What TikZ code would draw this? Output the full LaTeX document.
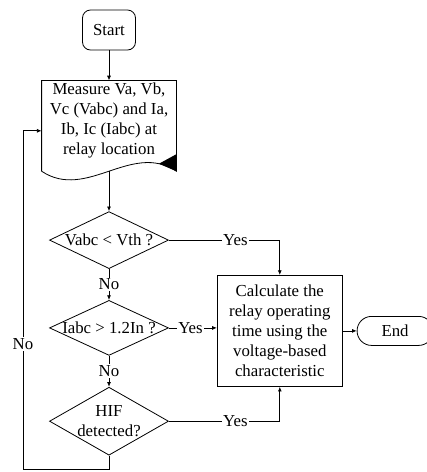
\documentclass[tikz,border=0pt]{standalone}
\usepackage{fontspec}
\setmainfont{Liberation Serif}
\usepackage{tikz}
\usetikzlibrary{arrows.meta,positioning,shapes.geometric}

\begin{document}
\begin{tikzpicture}[
    x=0.75pt, y=-0.75pt,
    font=\fontsize{12.6}{15}\selectfont,
    line width=0.6pt,
    terminal/.style={draw, rounded corners=6pt, minimum width=39.75pt, minimum height=30pt, inner sep=1pt},
    endcap/.style={draw, rounded corners=10.8pt, minimum width=57pt, minimum height=21.75pt, inner sep=1pt},
    docbox/.style={minimum width=100.5pt, minimum height=60pt, align=center, inner sep=0pt},
    decision/.style={draw, diamond, inner sep=0pt, minimum width=89.25pt},
    process/.style={draw, minimum width=93.75pt, minimum height=83.25pt, align=center, inner sep=0pt},
    lbl/.style={fill=white, inner sep=1pt},
    arrow/.style={-{Latex[length=3.5pt,width=3pt]}}
  ]
    \useasboundingbox (0,0) rectangle (427,472);
    \node[terminal] (start) at (109,30) {Start};
    \node[docbox, below=22.5pt of start] (meas) {Measure Va, Vb,\\Vc (Vabc) and Ia,\\Ib, Ic (Iabc) at\\relay location};
    \coordinate (wsw) at ([yshift=-7.5pt]meas.south west);
    \coordinate (wse) at ([yshift=-7.5pt]meas.south east);
    \coordinate (wave) at ([yshift=-7.5pt]meas.south);
    \draw (wsw) -- (meas.north west) -- (meas.north east) -- (wse) .. controls +(-45,-30) and +(45,30) .. (wsw);
    \fill ([yshift=12.75pt]wse) -- ([xshift=-13.1pt,yshift=5.6pt]wse) -- (wse) -- cycle;
    \node[decision, minimum height=42.75pt, below=37.5pt of meas, label=center:{Vabc < Vth ?}] (d1) {};
    \node[decision, minimum height=41.25pt, below=23.25pt of d1, label=center:{Iabc > 1.2In ?}] (d2) {};
    \node[decision, minimum height=51pt, below=23.25pt of d2, label={[align=center]center:HIF\\detected?}] (d3) {};
    \node[process, right=36pt of d2, yshift=-2.25pt] (calc) {Calculate the\\relay operating\\time using the\\voltage-based\\characteristic};
    \node[endcap, right=10.5pt of calc] (end) {End};
    \coordinate (turn) at (23,469);
    \coordinate (back) at ([yshift=-7.5pt]meas.west);
    \draw[arrow] (start) -- (meas.north);
    \draw[arrow] (wave) -- (d1.north);
    \draw[arrow] (d1.south) -- node[lbl] {No} (d2.north);
    \draw[arrow] (d2.south) -- node[lbl] {No} (d3.north);
    \draw[arrow] (d1.east) -| node[lbl, pos=0.3] {Yes} (calc.north);
    \draw[arrow] (d2.east) -- node[lbl, pos=0.45] {Yes} (d2.east -| calc.west);
    \draw[arrow] (d3.east) -| node[lbl, pos=0.3] {Yes} (calc.south);
    \draw[arrow] (calc) -- (end);
    \draw[arrow] (d3.south) |- (turn) -- node[lbl, pos=0.37] {No} (turn |- back) -- (back);
  \end{tikzpicture}
\end{document}
